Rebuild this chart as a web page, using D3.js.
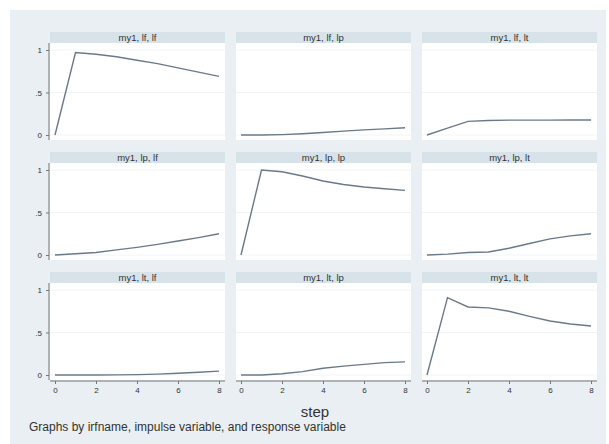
<!DOCTYPE html>
<html>
<head>
<meta charset="utf-8">
<script src="https://cdn.jsdelivr.net/npm/d3@7"></script>
<style>
  body { margin: 0; background: #fff; }
  text { font-family: "Liberation Sans", Arial, sans-serif; }
</style>
</head>
<body>
<div id="chart"></div>
<script>
// impulse response grid, one panel per impulse/response pair

var steps = [0, 1, 2, 3, 4, 5, 6, 7, 8];
var impulses = ["lf", "lp", "lt"];
var responses = ["lf", "lp", "lt"];
var yTicks = [0, 0.5, 1];
var xTicks = [0, 2, 4, 6, 8];

var irf_lf_lf = [0, 0.97, 0.95, 0.92, 0.88, 0.84, 0.79, 0.74, 0.69];
var irf_lf_lp = [0, 0, 0.005, 0.015, 0.03, 0.045, 0.06, 0.072, 0.085];
var irf_lf_lt = [0, 0.08, 0.16, 0.17, 0.175, 0.175, 0.175, 0.176, 0.176];
var irf_lp_lf = [0, 0.015, 0.03, 0.06, 0.09, 0.125, 0.165, 0.205, 0.25];
var irf_lp_lp = [0, 1.0, 0.98, 0.93, 0.87, 0.83, 0.80, 0.78, 0.76];
var irf_lp_lt = [0, 0.01, 0.03, 0.035, 0.08, 0.135, 0.19, 0.225, 0.25];
var irf_lt_lf = [0, 0, 0, 0.002, 0.005, 0.01, 0.02, 0.032, 0.045];
var irf_lt_lp = [0, 0, 0.015, 0.04, 0.08, 0.105, 0.125, 0.145, 0.155];
var irf_lt_lt = [0, 0.91, 0.80, 0.79, 0.75, 0.69, 0.635, 0.60, 0.576];

var series = [
  [irf_lf_lf, irf_lf_lp, irf_lf_lt],
  [irf_lp_lf, irf_lp_lp, irf_lp_lt],
  [irf_lt_lf, irf_lt_lp, irf_lt_lt]
];

var w_width = 609, w_height = 444;
var mainColor = {bg: '#e9eff2', strip: '#d7e2e9', line: '#6a7989', grid: '#f1f4f6', text: '#333'};

var svg = d3.select('#chart').append('svg')
  .attr('width', w_width)
  .attr('height', w_height)

svg.append('rect').attr('x', 10).attr('y', 10).attr('width', 596).attr('height', 434)
  .attr('fill', mainColor['bg'])

var colLeft = [50, 236, 422], panelW = 175;
var rowTop = [32, 152, 272], stripH = 11, plotH = 97;

var line = d3.line()

impulses.forEach(function(imp, r) {
  responses.forEach(function(resp, c) {
    var x0 = colLeft[c], y0 = rowTop[r];
    var x = d3.scaleLinear().domain([0, 8]).range([x0 + 5, x0 + 169]);
    var y = d3.scaleLinear().domain([0, 1]).range([y0 + 103, y0 + 18]);
    var g = svg.append('g');

    g.append('rect').attr('x', x0).attr('y', y0).attr('width', panelW).attr('height', stripH)
      .attr('fill', mainColor['strip'])
    g.append('text').attr('x', x0 + panelW / 2).attr('y', y0 + 9)
      .attr('text-anchor', 'middle').attr('font-size', 9.5).attr('fill', mainColor['text'])
      .text('my1, ' + imp + ', ' + resp)

    g.append('rect').attr('x', x0).attr('y', y0 + stripH).attr('width', panelW).attr('height', plotH)
      .attr('fill', '#fff')

    g.selectAll('.grid').data(yTicks).enter().append('line')
      .attr('x1', x0).attr('x2', x0 + panelW)
      .attr('y1', function(d) { return y(d) }).attr('y2', function(d) { return y(d) })
      .attr('stroke', mainColor['grid']).attr('stroke-width', 1)

    if (c == 0) {
      var ya = d3.axisLeft(y).tickValues(yTicks).tickSize(3).tickPadding(4)
        .tickFormat(function(d) { return d == 0.5 ? '.5' : d3.format('d')(d) });
      var ag = g.append('g').attr('transform', 'translate(' + (x0 - 1) + ',0)').call(ya);
      ag.select('.domain').attr('d', 'M0,' + (y0 + stripH) + 'V' + (y0 + stripH + plotH))
      ag.selectAll('line, path').attr('stroke', '#777')
      ag.selectAll('text').attr('font-size', 8).attr('fill', mainColor['text'])
    }
    if (r == 2) {
      var xa = d3.axisBottom(x).tickValues(xTicks).tickSize(3).tickPadding(3).tickFormat(d3.format('d'));
      var bg = g.append('g').attr('transform', 'translate(0,' + (y0 + stripH + plotH + 1) + ')').call(xa);
      bg.select('.domain').attr('d', 'M' + x0 + ',0H' + (x0 + panelW))
      bg.selectAll('line, path').attr('stroke', '#777')
      bg.selectAll('text').attr('font-size', 8).attr('fill', mainColor['text'])
    }

    g.append('path')
      .attr('d', line.x(function(d, i) { return x(steps[i]) }).y(function(d) { return y(d) })(series[r][c]))
      .attr('fill', 'none').attr('stroke', mainColor['line']).attr('stroke-width', 1.4)
  })
})

svg.append('text').text('step').attr('x', 315).attr('y', 417)
  .attr('text-anchor', 'middle').attr('font-size', 15).attr('fill', mainColor['text'])
svg.append('text').text('Graphs by irfname, impulse variable, and response variable')
  .attr('x', 29).attr('y', 431).attr('font-size', 12).attr('fill', mainColor['text'])
</script>
</body>
</html>
